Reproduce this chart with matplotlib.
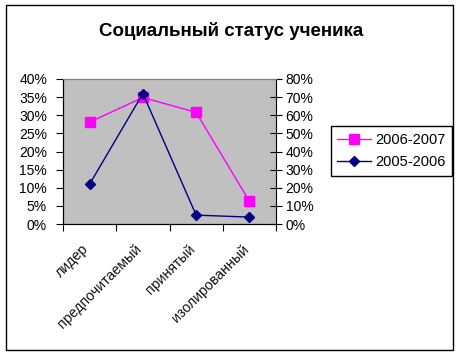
import matplotlib
matplotlib.use("Agg")
import matplotlib.pyplot as plt
from matplotlib.ticker import PercentFormatter, FixedLocator, NullFormatter
from matplotlib.patches import Rectangle
from matplotlib.transforms import blended_transform_factory, offset_copy

categories = ["лидер", "предпочитаемый", "принятый", "изолированный"]
s_2006_2007 = [28.1, 34.9, 30.8, 6.3]      # left axis, %
s_2005_2006 = [22.0, 72.0, 4.9, 3.8]       # right axis, %
left_ticks = [0, 5, 10, 15, 20, 25, 30, 35, 40]
right_ticks = [0, 10, 20, 30, 40, 50, 60, 70, 80]

plt.rcParams['font.family'] = ['Liberation Sans', 'DejaVu Sans']

fig = plt.figure(figsize=(4.61, 3.57), dpi=100)
fig.patches.append(Rectangle((6/461, 1-350/357), (453-6)/461, (350-5)/357,
                             transform=fig.transFigure, fill=False,
                             edgecolor='black', linewidth=1.0))
fig.text(231/461, 1-31/357, "Социальный статус ученика", ha='center', va='center',
         fontsize=13.5, fontweight='bold')

ax = fig.add_axes([63/461, 1-224/357, (276-63)/461, (224-79)/357])
ax.set_facecolor('#C0C0C0')
x = [i + 0.5 for i in range(len(categories))]
l1, = ax.plot(x, s_2006_2007, color='#FF00FF', marker='s', markersize=6.5,
              linewidth=1.0, label='2006-2007')
ax.set_xlim(0, len(categories))
ax.set_ylim(0, 40)
ax.yaxis.set_major_locator(FixedLocator(left_ticks))
ax.yaxis.set_major_formatter(PercentFormatter(decimals=0))
ax.xaxis.set_major_locator(FixedLocator(range(len(categories) + 1)))
ax.xaxis.set_major_formatter(NullFormatter())
ax.tick_params(axis='x', which='major', length=5, direction='out', color='black')
ax.tick_params(axis='y', length=5, direction='out', labelsize=10, pad=6.5)
ax.spines['top'].set_color('#808080')
ax.spines['right'].set_visible(False)

btrans = blended_transform_factory(ax.transData, ax.transAxes)
ltrans = offset_copy(btrans, fig=fig, x=-8, y=-18, units='dots')
for xi, lab in zip(x, categories):
    ax.text(xi, 0, lab, transform=ltrans, rotation=45, ha='right', va='top',
            rotation_mode='anchor', fontsize=10.2, color='#111111')

ax2 = ax.twinx()
l2, = ax2.plot(x, s_2005_2006, color='#000080', marker='D', markersize=5.5,
               linewidth=1.0, label='2005-2006')
ax2.set_ylim(0, 80)
ax2.yaxis.set_major_locator(FixedLocator(right_ticks))
ax2.yaxis.set_major_formatter(PercentFormatter(decimals=0))
ax2.tick_params(axis='y', length=8, direction='inout', labelsize=10, pad=3)
ax2.spines['top'].set_color('#808080')
ax2.spines['right'].set_color('black')

leg = fig.legend([l1, l2], ['2006-2007', '2005-2006'], loc='center',
                 bbox_to_anchor=(391.5/461, 1-151/357), fontsize=10.5,
                 fancybox=False, framealpha=1, edgecolor='black',
                 handlelength=2.33, handletextpad=0.3, borderpad=0.45,
                 labelspacing=0.6, borderaxespad=0)
leg.get_frame().set_linewidth(1.0)

fig.savefig("out.png", dpi=100)
